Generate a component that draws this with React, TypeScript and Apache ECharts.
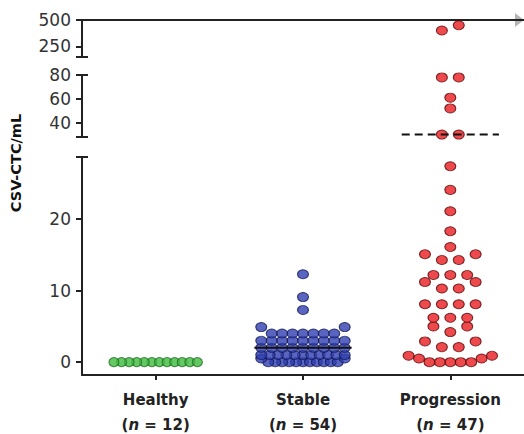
import React, { useEffect, useRef } from "react";
import * as echarts from "echarts";

// ---------- data ----------
const categories = ["Healthy", "Stable", "Progression"];
const healthyValues = [0, 0, 0, 0, 0, 0, 0, 0, 0, 0, 0, 0];
const stableValues = [
  0, 0, 0, 0, 0, 0, 0, 0, 0, 0, 0, 0.5, 0.5,
  1, 1, 1, 1, 1, 1, 1, 1, 1, 1, 1,
  2, 2, 2, 2, 2, 2, 2, 2, 2,
  3, 3, 3, 3, 3, 3, 3, 3, 3,
  4, 4, 4, 4, 4, 4, 4, 4.9, 4.9,
  7.3, 9.1, 12.3,
];
const progressionValues = [
  0, 0, 0, 0, 0, 0.5, 0.5, 0.9, 0.9,
  2.1, 2.1, 2.9, 2.9, 4.2, 5.0, 5.0, 6.2, 6.2, 6.2,
  8.1, 8.1, 8.1, 8.1, 10.3, 10.3, 11.2, 11.2, 12.2, 12.2, 12.2,
  14.3, 14.3, 15.1, 15.1, 16.1, 18.3, 21.1, 24.1, 27.4,
  30, 30, 52, 61, 78, 78, 400, 450,
];
const stableLineValue = 2;
const progressionCutoff = 30;
const bottomTicks = [0, 10, 20];
const middleTicks = [40, 60, 80];
const topTicks = [250, 500];

// ---------- layout ----------
const GRID_LEFT = 82;
const GRID_WIDTH = 445;
const X_MIN = -0.5;
const X_MAX = 2.5;
const UNIT_PX = GRID_WIDTH / (X_MAX - X_MIN);
const SEGMENTS = [
  { min: -1.8, max: 28.7, top: 157, height: 218, ticks: bottomTicks },
  { min: 28, max: 80, top: 75, height: 62, ticks: middleTicks },
  { min: 150, max: 500, top: 20, height: 37, ticks: topTicks },
];
const BIN_PX = 6.8;
const ROW_STEP = 17;
const ROW_WIDTH = 84;
const LINE_HALF = 0.33;

const COLORS = [
  { fill: "#3dba3f", border: "#1f6e1f", size: [10, 9] },
  { fill: "#2f3fb0", border: "#141a55", size: [11, 9] },
  { fill: "#ea1c1f", border: "#5a0606", size: [11, 9] },
];

const FONT = "DejaVu Sans";

function segmentOf(v: number) {
  return SEGMENTS.findIndex((s) => v >= s.min && v <= s.max);
}
function toPx(v: number) {
  const s = SEGMENTS[segmentOf(v)];
  return s.top + ((s.max - v) / (s.max - s.min)) * s.height;
}

// beeswarm: bin close values into rows, lowest values at the row centre
function swarm(values: number[]) {
  const sorted = [...values].sort((a, b) => a - b);
  const bins: number[][] = [];
  let cur: number[] = [];
  let startPx = 0;
  for (const v of sorted) {
    const p = toPx(v);
    if (cur.length && startPx - p < BIN_PX && segmentOf(v) === segmentOf(cur[0])) {
      cur.push(v);
    } else {
      if (cur.length) bins.push(cur);
      cur = [v];
      startPx = p;
    }
  }
  if (cur.length) bins.push(cur);
  const out: { v: number; dx: number }[] = [];
  for (const bin of bins) {
    const n = bin.length;
    const spacing = n > 1 ? Math.min(ROW_STEP, ROW_WIDTH / (n - 1)) : 0;
    bin.forEach((v, i) => {
      let slot: number;
      if (n % 2 === 1) {
        slot = i === 0 ? 0 : (i % 2 === 1 ? -1 : 1) * Math.ceil(i / 2);
      } else {
        slot = (i % 2 === 0 ? -1 : 1) * (Math.floor(i / 2) + 0.5);
      }
      out.push({ v, dx: (slot * spacing) / UNIT_PX });
    });
  }
  return out;
}

export default function App() {
  const ref = useRef<HTMLDivElement>(null);
  useEffect(() => {
    if (!ref.current) return;
    const chart = echarts.init(ref.current, null, { renderer: "svg" });
    const groups = [healthyValues, stableValues, progressionValues];

    const grids = SEGMENTS.map((s) => ({
      left: GRID_LEFT,
      top: s.top,
      width: GRID_WIDTH,
      height: s.height,
    }));

    const xAxes = SEGMENTS.map((s, i) => ({
      type: "value",
      gridIndex: i,
      min: X_MIN,
      max: X_MAX,
      position: i === 2 ? "top" : "bottom",
      show: i !== 1,
      splitLine: { show: false },
      axisLine: {
        show: true,
        onZero: false,
        lineStyle: { color: "#222", width: 2 },
      },
      axisTick: {
        show: i === 0,
        customValues: [0, 1, 2],
        length: 5,
        lineStyle: { color: "#222", width: 2 },
      },
      axisLabel: {
        show: i === 0,
        customValues: [0, 1, 2],
        margin: 12,
        formatter: (v: number) => {
          const idx = Math.round(v);
          return `{b|${categories[idx]}}\n{p|(}{i|n}{p| = ${groups[idx].length})}`;
        },
        rich: {
          b: { fontFamily: FONT, fontWeight: "bold", fontSize: 15, color: "#222", lineHeight: 25 },
          p: { fontFamily: FONT, fontWeight: "bold", fontSize: 15, color: "#222", lineHeight: 25 },
          i: { fontFamily: FONT, fontWeight: "bold", fontStyle: "italic", fontSize: 15, color: "#222", lineHeight: 25 },
        },
      },
    }));

    const yAxes = SEGMENTS.map((s, i) => ({
      type: "value",
      gridIndex: i,
      min: s.min,
      max: s.max,
      splitLine: { show: false },
      axisLine: { show: true, onZero: false, lineStyle: { color: "#222", width: 2 } },
      axisTick: { show: true, customValues: s.ticks, length: 6, lineStyle: { color: "#222", width: 2 } },
      axisLabel: {
        customValues: s.ticks,
        margin: 11,
        fontFamily: FONT,
        fontSize: 17,
        color: "#333",
      },
    }));

    const series: any[] = [];
    groups.forEach((vals, g) => {
      const pts = swarm(vals);
      SEGMENTS.forEach((s, si) => {
        const data = pts
          .filter((p) => segmentOf(p.v) === si)
          .map((p) => [g + p.dx, p.v]);
        if (!data.length) return;
        series.push({
          type: "scatter",
          xAxisIndex: si,
          yAxisIndex: si,
          data,
          symbol: "circle",
          symbolSize: COLORS[g].size,
          itemStyle: { color: COLORS[g].fill, borderColor: COLORS[g].border, borderWidth: 1 },
          z: 2,
        });
      });
    });
    series.push({
      type: "line",
      xAxisIndex: 0,
      yAxisIndex: 0,
      data: [
        [1 - LINE_HALF, stableLineValue],
        [1 + LINE_HALF, stableLineValue],
      ],
      symbol: "none",
      lineStyle: { color: "#111", width: 2 },
      z: 5,
    });
    const cutSeg = segmentOf(progressionCutoff);
    series.push({
      type: "line",
      xAxisIndex: cutSeg,
      yAxisIndex: cutSeg,
      data: [
        [2 - LINE_HALF, progressionCutoff],
        [2 + LINE_HALF, progressionCutoff],
      ],
      symbol: "none",
      lineStyle: { color: "#111", width: 2, type: [8, 5] },
      z: 5,
    });

    // break caps on the y axis
    const caps: any[] = [];
    SEGMENTS.forEach((s, i) => {
      const ends = i === 0 ? [s.top] : i === 2 ? [s.top + s.height] : [s.top, s.top + s.height];
      ends.forEach((y) =>
        caps.push({
          type: "line",
          shape: { x1: GRID_LEFT - 6, y1: y, x2: GRID_LEFT + 6, y2: y },
          style: { stroke: "#222", lineWidth: 2 },
        })
      );
    });

    chart.setOption({
      animation: false,
      grid: grids,
      xAxis: xAxes,
      yAxis: yAxes,
      series,
      graphic: [
        ...caps,
        {
          type: "polygon",
          shape: { points: [[515, 13], [524, 20], [515, 27]] },
          style: { fill: "#b5b5b5" },
        },
        {
          type: "text",
          x: 16,
          y: 163,
          rotation: Math.PI / 2,
          style: {
            text: "CSV-CTC/mL",
            font: `bold 14.5px "${FONT}"`,
            fill: "#111",
            textAlign: "center",
            textVerticalAlign: "middle",
          },
        },
      ],
    });
    return () => chart.dispose();
  }, []);
  return (
    <div
      ref={ref}
      style={{ position: "fixed", left: 0, top: 0, width: 524, height: 434, background: "#fff" }}
    />
  );
}
